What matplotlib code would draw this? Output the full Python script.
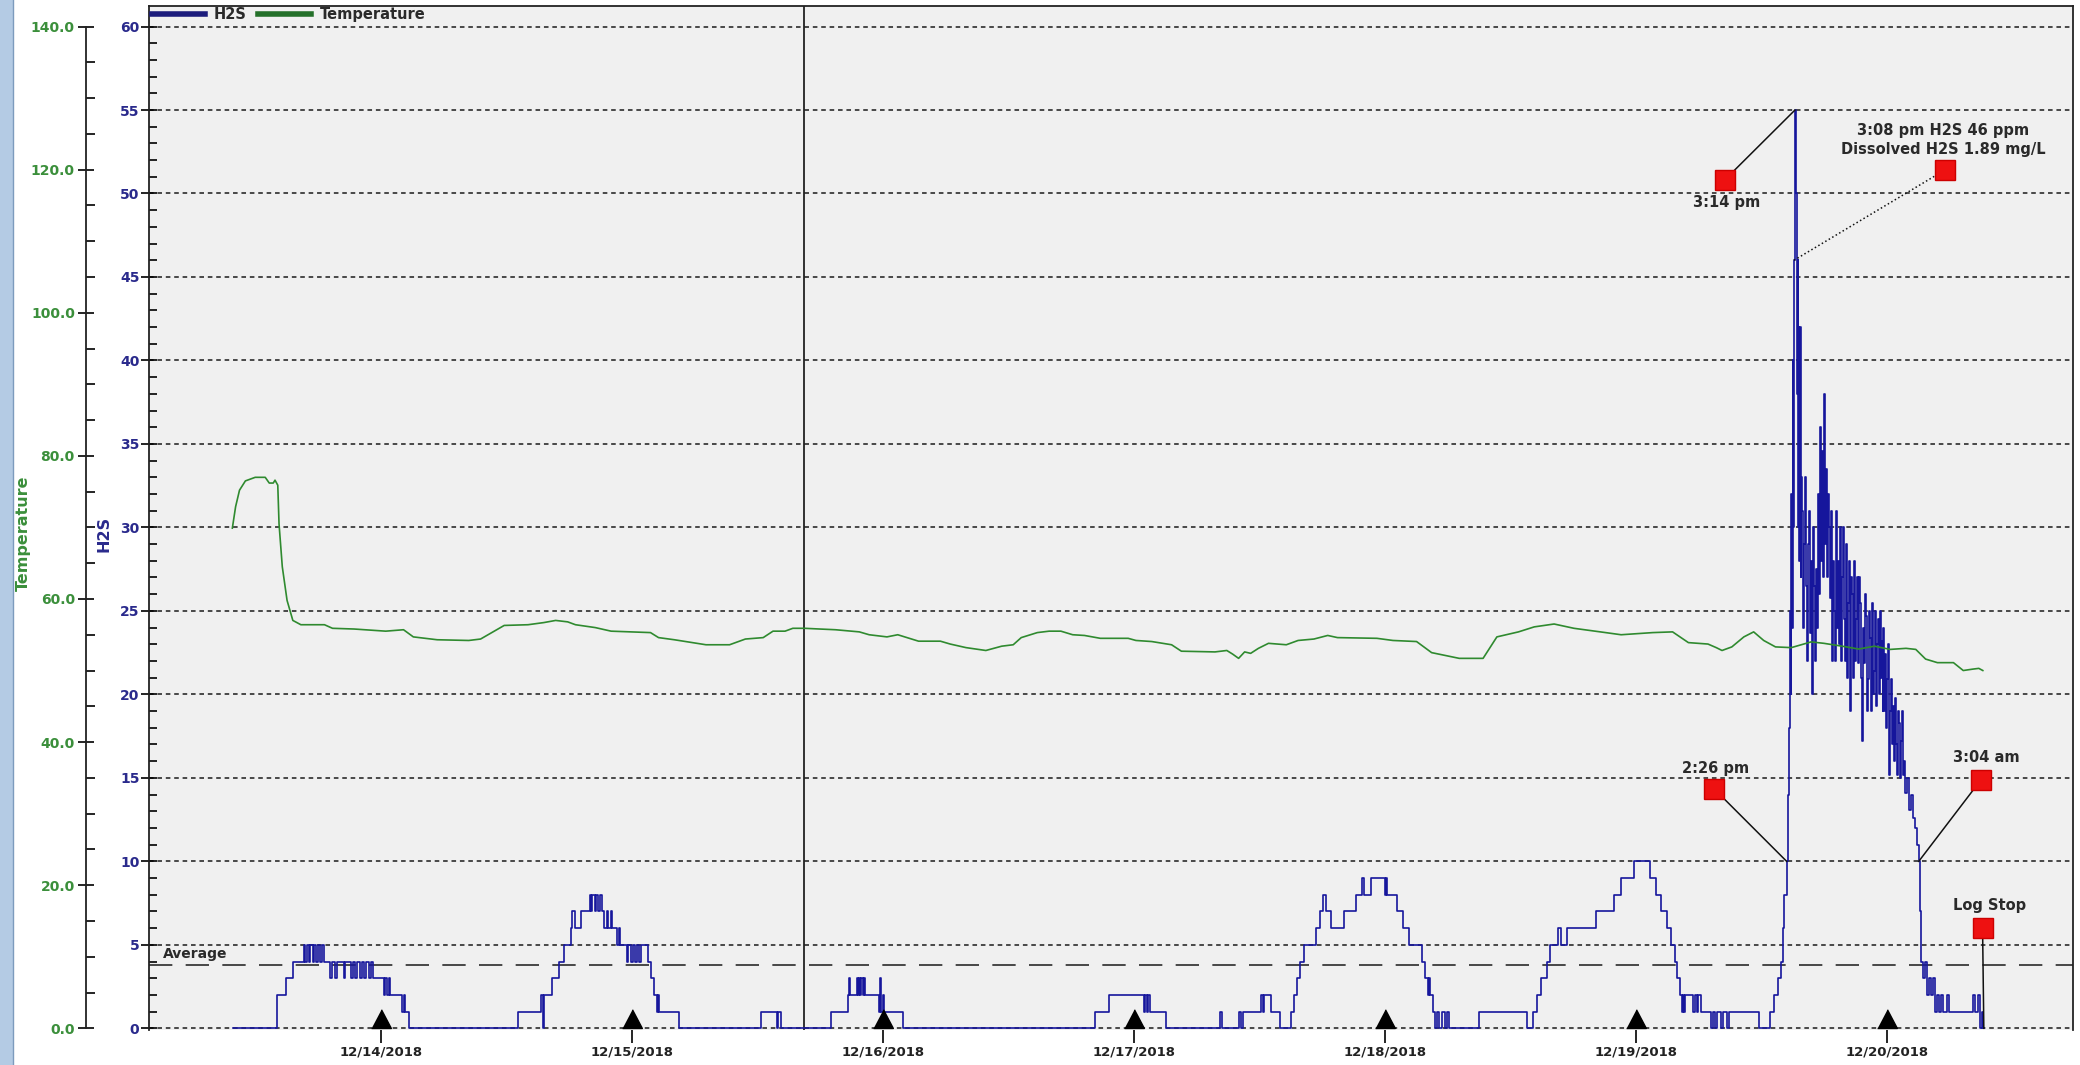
import matplotlib
matplotlib.use("Agg")
import matplotlib.pyplot as plt
from matplotlib.lines import Line2D
from matplotlib.patches import Rectangle

# time axis: days since 12/14/2018 00:00
date_ticks = [0, 1, 2, 3, 4, 5, 6]
date_labels = ["12/14/2018", "12/15/2018", "12/16/2018", "12/17/2018",
               "12/18/2018", "12/19/2018", "12/20/2018"]

# H2S logger readings (ppm), held until the next reading
h2s_day = [
    -0.588, -0.414, -0.378, -0.349, -0.307, -0.301, -0.294, -0.285, -0.280, -0.271, -0.264, -0.257, -0.250, -0.242, -0.235, -0.226,
    -0.200, -0.194, -0.182, -0.176, -0.146, -0.141, -0.119, -0.111, -0.102, -0.093, -0.084, -0.075, -0.066, -0.057, -0.048, -0.039, -0.030,
    0.014, 0.018, 0.025, 0.032, 0.037, 0.086, 0.091, 0.098, 0.112,
    0.549, 0.640, 0.645, 0.650, 0.683, 0.709, 0.731, 0.759, 0.764, 0.775, 0.799, 0.834,
    0.838, 0.843, 0.852, 0.859, 0.866, 0.873, 0.880, 0.888, 0.902, 0.907, 0.916, 0.922, 0.941, 0.950, 0.955,
    0.980, 0.985, 0.998, 1.005, 1.012, 1.020, 1.030, 1.036, 1.066, 1.075, 1.090, 1.100, 1.104, 1.108, 1.190,
    1.515, 1.578, 1.582, 1.595,
    1.793, 1.860, 1.865, 1.868, 1.898, 1.903, 1.906, 1.910, 1.914, 1.920, 1.924, 1.929, 1.985, 1.990, 1.994, 2.000, 2.005, 2.082,
    2.845, 2.903, 3.040, 3.046, 3.052, 3.058, 3.064, 3.130,
    3.345, 3.350, 3.421, 3.428, 3.436, 3.507, 3.515, 3.520, 3.546, 3.582, 3.625,
    3.640, 3.651, 3.664, 3.680, 3.727, 3.743, 3.755, 3.766, 3.786, 3.837, 3.887, 3.909, 3.918, 3.947, 4.000, 4.004, 4.009, 4.049, 4.072, 4.096,
    4.150, 4.160, 4.171, 4.175, 4.182, 4.194, 4.202, 4.210, 4.218, 4.229, 4.239, 4.248, 4.258,
    4.376, 4.566, 4.589, 4.605, 4.621, 4.645, 4.660, 4.692, 4.703, 4.728, 4.842, 4.913, 4.940, 4.992,
    5.058, 5.079, 5.100, 5.123, 5.142, 5.155, 5.166, 5.177, 5.183, 5.188, 5.193, 5.198, 5.230, 5.235, 5.245, 5.250, 5.262,
    5.300, 5.308, 5.316, 5.324, 5.340, 5.348, 5.363, 5.371, 5.490, 5.537, 5.553, 5.566, 5.577, 5.585, 5.592,
    5.6014, 5.605, 5.610, 5.615, 5.618, 5.620, 5.622, 5.625, 5.627, 5.6306, 5.6347,
    5.637, 5.639, 5.641, 5.643, 5.645, 5.647, 5.649, 5.651, 5.653, 5.655, 5.657, 5.6605,
    5.664, 5.6675, 5.671, 5.675, 5.679, 5.683, 5.687, 5.691, 5.695, 5.699, 5.703, 5.707, 5.711, 5.715, 5.719, 5.723,
    5.727, 5.731, 5.735, 5.739, 5.743, 5.7465, 5.750, 5.754, 5.758, 5.762, 5.766, 5.770, 5.774, 5.778, 5.782, 5.786,
    5.790, 5.794, 5.798, 5.802, 5.806, 5.810, 5.814, 5.8175, 5.821, 5.825, 5.829, 5.833, 5.837, 5.841, 5.845, 5.849,
    5.853, 5.857, 5.861, 5.865, 5.869, 5.873, 5.877, 5.881, 5.885, 5.889, 5.893, 5.8965, 5.900, 5.904, 5.908, 5.912,
    5.916, 5.920, 5.924, 5.928, 5.932, 5.936, 5.940, 5.944, 5.948, 5.952, 5.956, 5.960, 5.964, 5.968, 5.972, 5.976,
    5.980, 5.9835, 5.987, 5.991, 5.995, 5.999, 6.003, 6.007, 6.011, 6.015, 6.019, 6.023, 6.027, 6.031, 6.035, 6.039,
    6.043, 6.047, 6.051, 6.055, 6.059, 6.0625, 6.066, 6.070, 6.074, 6.082, 6.090, 6.098, 6.106, 6.114, 6.122, 6.1278,
    6.133, 6.137, 6.145, 6.153, 6.161, 6.169, 6.177, 6.185, 6.193, 6.201, 6.209, 6.216, 6.224, 6.240, 6.248, 6.343, 6.351, 6.362, 6.370, 6.378, 6.384, 6.387,
]
h2s_ppm = [
    0, 2, 3, 4, 5, 4, 5, 4, 5, 4, 5, 4, 5, 4, 5, 4,
    3, 4, 3, 4, 3, 4, 3, 4, 3, 4, 3, 4, 3, 4, 3, 4, 3,
    2, 3, 2, 3, 2, 1, 2, 1, 0,
    1, 2, 0, 2, 3, 4, 5, 6, 7, 6, 7, 8,
    7, 8, 7, 8, 7, 8, 7, 6, 7, 6, 7, 6, 5, 6, 5,
    4, 5, 4, 5, 4, 5, 4, 5, 4, 3, 2, 1, 2, 1, 0,
    1, 0, 1, 0,
    1, 2, 3, 2, 3, 2, 3, 2, 3, 2, 3, 2, 1, 3, 1, 2, 1, 0,
    1, 2, 1, 2, 1, 2, 1, 0,
    1, 0, 1, 0, 1, 2, 1, 2, 1, 0, 1,
    2, 3, 4, 5, 6, 7, 8, 7, 6, 7, 8, 9, 8, 9, 8, 9, 8, 7, 6, 5,
    4, 3, 2, 3, 2, 1, 0, 1, 0, 1, 0, 1, 0,
    1, 0, 1, 2, 3, 4, 5, 6, 5, 6, 7, 8, 9, 10,
    9, 8, 7, 6, 5, 4, 3, 2, 1, 2, 1, 2, 1, 2, 1, 2, 1,
    0, 1, 0, 1, 0, 1, 0, 1, 0, 1, 2, 3, 4, 6, 8,
    10, 14, 18, 25, 20, 32, 24, 40, 30, 46, 55,
    53, 50, 44, 38, 46, 30, 42, 28, 36, 42, 27, 33,
    31, 24, 29, 33, 26.5, 22, 29, 31, 23.7, 28, 20, 30, 26.5, 22, 27.5, 24,
    32, 26, 36, 28, 34.6, 27, 38, 29, 33.5, 27, 32, 30, 25.8, 31, 22, 28,
    25, 22, 31, 24, 28, 23, 30, 22, 27, 30, 24.5, 22, 29, 21, 25.5, 28,
    19, 27, 26, 21, 28, 22, 24.5, 27, 21.9, 27, 25.5, 21, 17.2, 24, 21.9, 26,
    24.7, 19, 20.9, 25, 23.4, 19, 25.5, 20, 21.4, 25, 19.3, 23, 24.5, 20, 25, 21,
    23.2, 19, 24, 19, 22.4, 18, 20.9, 23, 15.2, 19, 20.9, 17, 19.3, 16, 19.8, 17,
    15.2, 19, 18.3, 15, 17.2, 19, 15.2, 16, 14.1, 15, 13.1, 14, 12.6, 12, 11, 10,
    7, 4, 3, 4, 2, 3, 2, 3, 1, 2, 1, 2, 1, 2, 1, 2, 1, 2, 0, 1, 0, 0,
]

# temperature readings
temp_day = [
    -0.591, -0.578, -0.5625, -0.539, -0.500, -0.460, -0.444, -0.428, -0.421, -0.410, -0.405, -0.392, -0.373, -0.350, -0.318,
    -0.224, -0.192, -0.106, 0.020, 0.091, 0.130, 0.225, 0.351, 0.398, 0.492, 0.587, 0.650, 0.697, 0.745, 0.776,
    0.855, 0.918, 1.075, 1.107, 1.170, 1.296, 1.390, 1.453, 1.524, 1.563, 1.611, 1.642, 1.689, 1.749, 1.812,
    1.907, 1.946, 2.017, 2.060, 2.143, 2.230, 2.269, 2.332, 2.411, 2.474, 2.520, 2.552, 2.616, 2.663, 2.710,
    2.757, 2.804, 2.867, 2.978, 3.009, 3.072, 3.151, 3.190, 3.324, 3.371, 3.394, 3.418, 3.442, 3.466, 3.497,
    3.537, 3.608, 3.655, 3.718, 3.773, 3.812, 3.969, 4.033, 4.127, 4.187, 4.297, 4.392, 4.447, 4.533, 4.596,
    4.675, 4.754, 4.880, 4.942, 5.068, 5.147, 5.210, 5.288, 5.321, 5.344, 5.383, 5.431, 5.470, 5.510, 5.557,
    5.620, 5.699, 5.750, 5.840, 5.888, 5.951, 6.014, 6.077, 6.116, 6.155, 6.202, 6.266, 6.305, 6.344, 6.367, 6.383,
]
temp_val = [
    69.9, 72.9, 75.2, 76.5, 77.0, 77.0, 76.2, 76.2, 76.6, 75.9, 70.5, 64.5, 59.8, 57.0, 56.4,
    56.4, 55.9, 55.8, 55.5, 55.7, 54.7, 54.3, 54.2, 54.4, 56.3, 56.4, 56.7, 57.0, 56.8, 56.4,
    56.0, 55.5, 55.3, 54.6, 54.3, 53.6, 53.6, 54.4, 54.6, 55.5, 55.5, 55.9, 55.9, 55.8, 55.7,
    55.4, 55.0, 54.7, 55.0, 54.1, 54.1, 53.7, 53.2, 52.8, 53.4, 53.6, 54.6, 55.3, 55.5, 55.5,
    55.0, 54.9, 54.5, 54.5, 54.2, 54.05, 53.6, 52.7, 52.6, 52.8, 52.3, 51.7, 52.6, 52.4, 53.1,
    53.8, 53.6, 54.2, 54.4, 54.9, 54.6, 54.5, 54.2, 54.05, 52.5, 51.7, 51.7, 54.7, 55.4, 56.1,
    56.5, 55.9, 55.3, 55.0, 55.3, 55.4, 53.9, 53.7, 53.2, 52.8, 53.3, 54.7, 55.4, 54.2, 53.3,
    53.2, 54.0, 53.8, 53.3, 53.0, 53.4, 52.95, 53.1, 52.95, 51.6, 51.1, 51.1, 50.0, 50.2, 50.3, 50.0,
]

h2s_average = 3.8
cursor_day = 1.686

# event notes and the readings they point at
note_text = ["3:14 pm", "3:08 pm H2S 46 ppm\nDissolved H2S 1.89 mg/L", "2:26 pm", "3:04 am", "Log Stop"]
note_day = [5.6347, 5.6306, 5.6014, 6.1278, 6.387]
note_ppm = [55, 46, 10, 10, 0]

# where the red note boxes sit
box_day = [5.354, 6.231, 5.312, 6.374, 6.382]
box_ppm = [50.8, 51.4, 14.35, 14.85, 6.0]

H2S_COLOR = "#16169c"
H2S_TEXT = "#2a2a8c"
TEMP_COLOR = "#2f8a2f"
TEMP_TEXT = "#3b8f3b"
NOTE_TEXT = "#2a2a2a"

plt.rcParams["font.family"] = ["DejaVu Sans"]
plt.rcParams["font.weight"] = "bold"

fig = plt.figure(figsize=(20.8, 10.65), dpi=100)
fig.add_artist(Rectangle((0, 0), 13 / 2080, 1, transform=fig.transFigure,
                         facecolor="#b4cbe4", edgecolor="none"))
fig.add_artist(Line2D([13 / 2080, 13 / 2080], [0, 1], transform=fig.transFigure,
                      color="#7d9bbd", lw=1))

ax = fig.add_axes([0.0714, 0.0329, 0.9252, 0.9610])
ax.set_facecolor("#f0f0f0")
ax.set_xlim(-0.925, 6.742)
ax.set_ylim(-0.1, 61.2)

# H2S axis
ax.set_yticks(range(0, 61, 5))
ax.set_yticks(range(0, 61), minor=True)
ax.tick_params(axis="y", which="major", direction="inout", length=11, width=1.2,
               labelsize=10, labelcolor=H2S_TEXT, pad=1)
ax.tick_params(axis="y", which="minor", direction="in", length=5.5, width=1.2)
ax.set_ylabel("H2S", color=H2S_TEXT, fontsize=11.5, fontweight="bold")
ax.yaxis.set_label_coords(-0.019, 0.485)
ax.grid(axis="y", which="major", linestyle=(0, (3, 2.5)), color="#1a1a1a", lw=1.1)

ax.set_xticks(date_ticks)
ax.set_xticklabels(date_labels)
ax.tick_params(axis="x", direction="out", length=9, width=1.2, labelsize=9.5, pad=2,
               labelcolor="#222222")

for side in ["left", "top", "right"]:
    ax.spines[side].set_linewidth(1.3)
    ax.spines[side].set_color("#222222")
ax.spines["bottom"].set_visible(False)

ax.plot(h2s_day, h2s_ppm, drawstyle="steps-post", color=H2S_COLOR, lw=1.2, zorder=3)

ax.axhline(h2s_average, color="#2a2a2a", lw=1.2, linestyle=(0, (14, 8)), zorder=2)
ax.text(-0.867, h2s_average + 0.25, "Average", fontsize=10, color=NOTE_TEXT,
        ha="left", va="bottom")
ax.axvline(cursor_day, color="#111111", lw=1.2, zorder=2)

# day markers on the time axis
tri = [(-0.5, 0), (0.5, 0), (0, 0.95)]
ax.plot(date_ticks, [0] * len(date_ticks), linestyle="none", marker=tri,
        markersize=27, color="black", zorder=5, clip_on=False)

# event notes
for i, text in enumerate(note_text):
    ls = ":" if i == 1 else "-"
    ax.plot([box_day[i], note_day[i]], [box_ppm[i], note_ppm[i]], color="#111111",
            lw=1.1, linestyle=ls, zorder=6)
    ax.plot(box_day[i], box_ppm[i], marker="s", markersize=14.5, color="#ee1111",
            markeredgecolor="#cc0000", zorder=7)

ax.text(5.364, 49.9, note_text[0], ha="center", va="top", fontsize=10.5, color=NOTE_TEXT)
ax.text(6.225, 52.2, note_text[1], ha="center", va="bottom", fontsize=10.5,
        color=NOTE_TEXT, linespacing=1.35)
ax.text(5.320, 15.1, note_text[2], ha="center", va="bottom", fontsize=10.5, color=NOTE_TEXT)
ax.text(6.395, 15.75, note_text[3], ha="center", va="bottom", fontsize=10.5, color=NOTE_TEXT)
ax.text(6.408, 6.9, note_text[4], ha="center", va="bottom", fontsize=10.5, color=NOTE_TEXT)

# temperature axis, offset to the left of the H2S axis
ax2 = ax.twinx()
ax2.set_ylim(-0.1 * 140 / 60, 61.2 * 140 / 60)
ax2.yaxis.tick_left()
ax2.yaxis.set_label_position("left")
ax2.spines["left"].set_position(("axes", -0.0325))
ax2.spines["left"].set_visible(True)
ax2.spines["left"].set_bounds(0, 140)
ax2.spines["left"].set_linewidth(1.3)
ax2.spines["left"].set_color("#222222")
for side in ["right", "top", "bottom"]:
    ax2.spines[side].set_visible(False)
ax2.set_yticks([0, 20, 40, 60, 80, 100, 120, 140])
ax2.set_yticklabels(["0.0", "20.0", "40.0", "60.0", "80.0", "100.0", "120.0", "140.0"])
ax2.set_yticks(range(0, 141, 5), minor=True)
ax2.tick_params(axis="y", which="major", direction="inout", length=12, width=1.2,
                labelsize=10, labelcolor=TEMP_TEXT, pad=2)
ax2.tick_params(axis="y", which="minor", direction="in", length=6.5, width=1.2)
ax2.set_ylabel("Temperature", color=TEMP_TEXT, fontsize=11.5, fontweight="bold")
ax2.yaxis.set_label_coords(-0.0611, 0.485)

ax2.plot(temp_day, temp_val, color=TEMP_COLOR, lw=1.2, zorder=3)

handles = [Line2D([], [], color="#1c1c7c", lw=4), Line2D([], [], color="#24702a", lw=4)]
ax2.legend(handles, ["H2S", "Temperature"], loc="center left", bbox_to_anchor=(0.002, 0.9918),
           ncol=2, frameon=False, borderaxespad=0, borderpad=0, handlelength=3.6,
           handletextpad=0.6, columnspacing=0.8, prop={"size": 10.5, "weight": "bold"},
           labelcolor=NOTE_TEXT)

fig.savefig("out.png", dpi=100, facecolor="white")
